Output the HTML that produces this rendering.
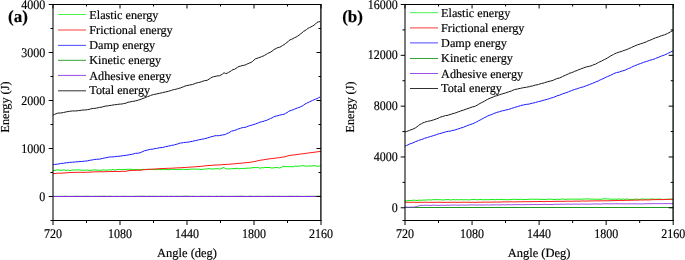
<!DOCTYPE html>
<html><head><meta charset="utf-8"><style>
html,body{margin:0;padding:0;background:#fff;width:685px;height:260px;overflow:hidden;}
svg{display:block;will-change:transform;}
text{font-family:"Liberation Serif", serif;stroke:#000;stroke-width:0.18px;}
</style></head><body>
<svg width="685" height="260" viewBox="0 0 685 260" text-rendering="geometricPrecision" font-family='"Liberation Serif", serif' fill="#000"><defs><clipPath id="ca"><rect x="53" y="4.5" width="268" height="216"/></clipPath><clipPath id="cb"><rect x="405" y="4.5" width="268.2" height="216"/></clipPath></defs><g clip-path="url(#ca)"><polyline points="53.00,196.06 55.00,196.12 57.00,196.15 59.00,196.22 61.00,196.12 63.00,196.21 65.00,195.76 67.00,195.98 69.00,196.22 71.00,196.07 73.00,196.20 75.00,195.81 77.00,195.98 79.00,195.87 81.00,196.02 83.00,196.04 85.00,195.76 87.00,195.86 89.00,195.89 91.00,196.21 93.00,196.13 95.00,195.83 97.00,196.15 99.00,195.82 101.00,196.06 103.00,195.81 105.00,195.75 107.00,196.19 109.00,195.85 111.00,195.86 113.00,196.24 115.00,196.19 117.00,195.89 119.00,196.23 121.00,196.02 123.00,196.09 125.00,195.85 127.00,196.22 129.00,196.10 131.00,196.23 133.00,196.20 135.00,195.90 137.00,195.93 139.00,195.83 141.00,195.82 143.00,195.78 145.00,195.90 147.00,196.05 149.00,195.75 151.00,196.09 153.00,195.92 155.00,195.90 157.00,196.16 159.00,195.99 161.00,195.91 163.00,195.99 165.00,196.10 167.00,195.78 169.00,196.24 171.00,195.76 173.00,196.12 175.00,196.17 177.00,195.76 179.00,196.14 181.00,195.93 183.00,196.04 185.00,195.75 187.00,195.77 189.00,195.84 191.00,196.23 193.00,195.85 195.00,196.13 197.00,196.21 199.00,196.22 201.00,195.92 203.00,195.93 205.00,196.01 207.00,196.14 209.00,195.80 211.00,196.12 213.00,196.15 215.00,196.18 217.00,195.77 219.00,196.22 221.00,195.80 223.00,195.92 225.00,196.06 227.00,196.21 229.00,195.92 231.00,196.21 233.00,196.02 235.00,195.91 237.00,195.91 239.00,195.84 241.00,195.79 243.00,195.82 245.00,196.09 247.00,196.25 249.00,195.83 251.00,195.77 253.00,196.24 255.00,196.02 257.00,195.95 259.00,195.87 261.00,196.05 263.00,196.16 265.00,195.98 267.00,195.96 269.00,195.78 271.00,196.21 273.00,195.77 275.00,196.00 277.00,196.17 279.00,195.82 281.00,196.12 283.00,196.22 285.00,196.07 287.00,196.14 289.00,195.80 291.00,195.97 293.00,195.82 295.00,196.17 297.00,195.90 299.00,195.98 301.00,196.25 303.00,196.18 305.00,196.24 307.00,195.98 309.00,195.99 311.00,196.11 313.00,195.99 315.00,195.90 317.00,195.95 319.00,195.82 321.00,195.94" fill="none" stroke="#1f9a1f" stroke-width="1" stroke-opacity="0.4" stroke-linejoin="round"/><polyline points="53.00,196.50 321.00,196.50" fill="none" stroke="#8a2be2" stroke-width="1.2" stroke-opacity="1.0" stroke-linejoin="round"/><polyline points="53.00,170.47 54.00,170.44 55.00,170.60 56.00,170.03 57.00,169.81 58.00,170.06 59.00,169.98 60.00,170.21 61.00,170.29 62.00,170.40 63.00,169.91 64.00,170.05 65.00,169.90 66.00,170.40 67.00,170.32 68.00,169.86 69.00,170.51 70.00,170.50 71.00,170.28 72.00,170.25 73.00,169.93 74.00,169.82 75.00,170.18 76.00,169.85 77.00,169.94 78.00,169.97 79.00,169.82 80.00,170.12 81.00,170.10 82.00,170.38 83.00,170.15 84.00,170.24 85.00,170.14 86.00,170.25 87.00,170.10 88.00,169.97 89.00,170.48 90.00,170.47 91.00,170.36 92.00,170.26 93.00,169.99 94.00,169.93 95.00,169.96 96.00,169.81 97.00,170.29 98.00,170.04 99.00,170.35 100.00,170.02 101.00,170.40 102.00,170.30 103.00,169.69 104.00,169.82 105.00,170.29 106.00,169.96 107.00,170.30 108.00,169.87 109.00,169.62 110.00,169.99 111.00,170.07 112.00,169.70 113.00,169.55 114.00,169.70 115.00,170.12 116.00,169.95 117.00,169.47 118.00,169.53 119.00,169.40 120.00,169.34 121.00,169.82 122.00,169.36 123.00,169.60 124.00,169.49 125.00,169.28 126.00,169.62 127.00,169.17 128.00,169.50 129.00,169.15 130.00,169.37 131.00,169.24 132.00,169.30 133.00,169.80 134.00,169.70 135.00,169.36 136.00,169.77 137.00,169.30 138.00,169.43 139.00,169.75 140.00,169.60 141.00,169.22 142.00,169.84 143.00,169.30 144.00,169.33 145.00,169.69 146.00,169.38 147.00,169.36 148.00,169.20 149.00,169.21 150.00,169.56 151.00,169.32 152.00,169.57 153.00,169.40 154.00,169.46 155.00,169.81 156.00,169.47 157.00,169.53 158.00,169.73 159.00,169.25 160.00,169.23 161.00,169.75 162.00,169.69 163.00,169.29 164.00,169.24 165.00,169.62 166.00,169.76 167.00,169.24 168.00,169.76 169.00,169.71 170.00,169.52 171.00,169.39 172.00,169.16 173.00,169.11 174.00,169.76 175.00,169.25 176.00,169.57 177.00,169.25 178.00,169.65 179.00,169.48 180.00,169.27 181.00,169.18 182.00,169.56 183.00,169.10 184.00,169.21 185.00,169.44 186.00,169.63 187.00,169.45 188.00,169.21 189.00,169.64 190.00,169.13 191.00,168.98 192.00,169.15 193.00,169.26 194.00,168.97 195.00,169.04 196.00,169.16 197.00,169.29 198.00,168.97 199.00,169.12 200.00,169.47 201.00,169.54 202.00,169.31 203.00,169.33 204.00,169.26 205.00,168.95 206.00,168.87 207.00,168.86 208.00,168.99 209.00,168.34 210.00,169.02 211.00,168.86 212.00,169.17 213.00,168.94 214.00,168.99 215.00,168.57 216.00,169.07 217.00,168.44 218.00,168.79 219.00,168.95 220.00,169.08 221.00,168.67 222.00,168.34 223.00,167.54 224.00,167.66 225.00,168.20 226.00,168.68 227.00,169.08 228.00,169.02 229.00,168.67 230.00,168.89 231.00,168.90 232.00,168.66 233.00,168.66 234.00,168.46 235.00,168.56 236.00,168.56 237.00,168.17 238.00,168.54 239.00,168.77 240.00,168.67 241.00,168.54 242.00,168.28 243.00,168.50 244.00,168.38 245.00,168.26 246.00,168.52 247.00,167.97 248.00,168.42 249.00,167.89 250.00,168.27 251.00,168.01 252.00,167.65 253.00,167.80 254.00,167.48 255.00,167.38 256.00,167.77 257.00,167.49 258.00,167.50 259.00,167.88 260.00,168.32 261.00,167.81 262.00,167.61 263.00,167.94 264.00,167.59 265.00,167.26 266.00,167.65 267.00,167.34 268.00,167.66 269.00,167.41 270.00,167.65 271.00,167.91 272.00,167.99 273.00,167.97 274.00,167.62 275.00,167.76 276.00,167.57 277.00,167.45 278.00,167.70 279.00,167.94 280.00,167.94 281.00,167.41 282.00,167.15 283.00,166.24 284.00,166.30 285.00,166.63 286.00,166.64 287.00,166.57 288.00,166.69 289.00,166.81 290.00,166.70 291.00,166.51 292.00,166.82 293.00,166.86 294.00,166.43 295.00,166.10 296.00,166.01 297.00,166.54 298.00,165.90 299.00,166.31 300.00,166.15 301.00,165.77 302.00,165.90 303.00,165.53 304.00,165.78 305.00,166.17 306.00,165.87 307.00,166.43 308.00,166.02 309.00,165.95 310.00,165.88 311.00,166.13 312.00,165.84 313.00,165.81 314.00,165.67 315.00,165.62 316.00,166.12 317.00,166.33 318.00,165.99 319.00,166.18 320.00,165.98 321.00,165.86" fill="none" stroke="#11ee11" stroke-width="1" stroke-opacity="1.0" stroke-linejoin="round"/><polyline points="53.00,173.59 55.00,173.50 57.00,173.24 59.00,173.16 61.00,173.21 63.00,173.07 65.00,172.93 67.00,172.70 69.00,172.60 71.00,172.50 73.00,172.46 75.00,172.33 77.00,172.35 79.00,172.30 81.00,172.33 83.00,172.37 85.00,172.34 87.00,172.24 89.00,172.20 91.00,172.09 93.00,171.93 95.00,171.81 97.00,171.85 99.00,171.78 101.00,171.76 103.00,171.82 105.00,171.71 107.00,171.67 109.00,171.57 111.00,171.48 113.00,171.51 115.00,171.43 117.00,171.46 119.00,171.52 121.00,171.41 123.00,171.28 125.00,171.38 127.00,171.00 129.00,170.63 131.00,170.46 133.00,170.39 135.00,170.36 137.00,170.23 139.00,170.32 141.00,170.17 143.00,169.77 145.00,169.65 147.00,169.52 149.00,169.35 151.00,169.24 153.00,169.09 155.00,169.03 157.00,168.81 159.00,168.74 161.00,168.53 163.00,168.56 165.00,168.48 167.00,168.31 169.00,168.25 171.00,168.24 173.00,168.12 175.00,168.00 177.00,167.86 179.00,167.80 181.00,167.77 183.00,167.52 185.00,167.53 187.00,167.26 189.00,167.25 191.00,166.99 193.00,166.98 195.00,166.79 197.00,166.61 199.00,166.47 201.00,166.33 203.00,166.12 205.00,165.86 207.00,165.64 209.00,165.50 211.00,165.43 213.00,165.24 215.00,165.02 217.00,165.04 219.00,164.91 221.00,164.82 223.00,164.56 225.00,164.55 227.00,164.29 229.00,164.29 231.00,164.06 233.00,163.88 235.00,163.83 237.00,163.49 239.00,163.39 241.00,163.27 243.00,162.95 245.00,162.74 247.00,162.68 249.00,162.38 251.00,162.18 253.00,161.73 255.00,161.47 257.00,160.95 259.00,160.57 261.00,160.07 263.00,159.94 265.00,159.46 267.00,159.30 269.00,158.85 271.00,158.63 273.00,158.50 275.00,158.13 277.00,157.90 279.00,157.76 281.00,157.40 283.00,156.97 285.00,156.80 287.00,156.11 289.00,155.57 291.00,155.25 293.00,155.06 295.00,154.85 297.00,154.48 299.00,154.29 301.00,153.96 303.00,153.74 305.00,153.50 307.00,153.20 309.00,152.93 311.00,152.63 313.00,152.42 315.00,152.15 317.00,151.87 319.00,151.58 321.00,151.43" fill="none" stroke="#ff1a1a" stroke-width="1" stroke-opacity="1.0" stroke-linejoin="round"/><polyline points="53.00,164.62 54.50,164.51 56.00,164.25 57.50,164.12 59.00,163.92 60.50,163.54 62.00,163.30 63.50,163.33 65.00,162.93 66.50,162.71 68.00,162.73 69.50,162.36 71.00,162.34 72.50,162.14 74.00,162.10 75.50,161.85 77.00,161.84 78.50,161.76 80.00,161.51 81.50,161.48 83.00,161.37 84.50,161.10 86.00,161.12 87.50,160.83 89.00,160.50 90.50,160.15 92.00,160.07 93.50,159.62 95.00,159.37 96.50,159.32 98.00,159.18 99.50,159.16 101.00,158.73 102.50,158.49 104.00,158.02 105.50,157.86 107.00,157.63 108.50,157.19 110.00,156.99 111.50,156.87 113.00,156.94 114.50,156.63 116.00,156.56 117.50,156.34 119.00,156.28 120.50,156.09 122.00,155.84 123.50,155.67 125.00,155.43 126.50,155.25 128.00,154.91 129.50,154.72 131.00,154.41 132.50,154.15 134.00,153.75 135.50,153.32 137.00,153.29 138.50,153.08 140.00,152.82 141.50,152.09 143.00,151.50 144.50,150.72 146.00,150.48 147.50,150.07 149.00,149.66 150.50,149.28 152.00,149.25 153.50,149.02 155.00,148.48 156.50,148.45 158.00,148.09 159.50,147.78 161.00,147.56 162.50,147.43 164.00,147.19 165.50,146.65 167.00,146.49 168.50,145.99 170.00,145.87 171.50,145.39 173.00,145.19 174.50,144.86 176.00,144.32 177.50,144.05 179.00,143.42 180.50,143.00 182.00,142.95 183.50,142.57 185.00,142.41 186.50,142.29 188.00,142.17 189.50,141.86 191.00,141.50 192.50,141.36 194.00,140.80 195.50,140.64 197.00,140.32 198.50,139.86 200.00,139.59 201.50,139.31 203.00,139.04 204.50,138.73 206.00,138.32 207.50,137.89 209.00,137.53 210.50,136.97 212.00,136.56 213.50,136.26 215.00,135.72 216.50,135.65 218.00,135.76 219.50,135.54 221.00,135.33 222.50,134.90 224.00,134.75 225.50,134.39 227.00,133.52 228.50,132.96 230.00,132.14 231.50,131.14 233.00,130.80 234.50,130.41 236.00,129.95 237.50,129.26 239.00,128.76 240.50,128.27 242.00,127.76 243.50,127.47 245.00,127.35 246.50,126.93 248.00,126.21 249.50,125.76 251.00,125.35 252.50,124.85 254.00,124.44 255.50,123.94 257.00,123.36 258.50,122.83 260.00,122.14 261.50,121.77 263.00,121.50 264.50,120.89 266.00,120.50 267.50,119.92 269.00,119.16 270.50,118.48 272.00,117.93 273.50,117.04 275.00,116.31 276.50,115.99 278.00,115.68 279.50,115.11 281.00,114.82 282.50,114.49 284.00,114.30 285.50,113.33 287.00,112.61 288.50,111.55 290.00,110.75 291.50,110.31 293.00,109.84 294.50,109.17 296.00,108.54 297.50,107.94 299.00,107.49 300.50,106.76 302.00,106.19 303.50,105.20 305.00,104.01 306.50,103.25 308.00,102.63 309.50,101.80 311.00,101.19 312.50,100.45 314.00,99.79 315.50,99.20 317.00,98.62 318.50,97.74 320.00,97.04" fill="none" stroke="#1a1aff" stroke-width="1" stroke-opacity="1.0" stroke-linejoin="round"/><polyline points="53.00,115.22 54.50,114.43 56.00,113.77 57.50,113.16 59.00,113.04 60.50,112.97 62.00,112.83 63.50,112.49 65.00,112.18 66.50,111.78 68.00,111.63 69.50,111.31 71.00,111.12 72.50,110.98 74.00,110.89 75.50,110.98 77.00,110.80 78.50,110.64 80.00,110.49 81.50,110.16 83.00,110.04 84.50,109.99 86.00,109.83 87.50,109.66 89.00,109.45 90.50,108.93 92.00,108.63 93.50,108.38 95.00,108.40 96.50,108.00 98.00,107.79 99.50,107.38 101.00,107.29 102.50,106.91 104.00,106.45 105.50,106.06 107.00,106.00 108.50,105.66 110.00,105.51 111.50,105.29 113.00,104.98 114.50,104.74 116.00,104.63 117.50,104.43 119.00,104.20 120.50,104.07 122.00,104.01 123.50,103.57 125.00,103.36 126.50,102.94 128.00,102.23 129.50,102.01 131.00,101.69 132.50,101.36 134.00,101.29 135.50,100.78 137.00,100.57 138.50,100.00 140.00,99.62 141.50,99.00 143.00,98.42 144.50,97.89 146.00,97.17 147.50,96.67 149.00,96.20 150.50,95.43 152.00,94.97 153.50,94.57 155.00,94.28 156.50,93.96 158.00,93.58 159.50,93.34 161.00,92.96 162.50,92.69 164.00,92.20 165.50,92.02 167.00,91.66 168.50,91.26 170.00,90.77 171.50,90.45 173.00,89.78 174.50,89.47 176.00,89.26 177.50,88.78 179.00,88.25 180.50,87.94 182.00,87.28 183.50,86.77 185.00,86.04 186.50,85.68 188.00,85.42 189.50,85.00 191.00,84.76 192.50,84.57 194.00,83.88 195.50,83.31 197.00,82.90 198.50,82.52 200.00,82.29 201.50,81.68 203.00,81.18 204.50,80.64 206.00,80.54 207.50,80.08 209.00,79.16 210.50,78.10 212.00,77.30 213.50,76.68 215.00,76.45 216.50,76.08 218.00,75.84 219.50,75.77 221.00,74.92 222.50,74.07 224.00,72.69 225.50,73.56 227.00,73.31 228.50,72.34 230.00,71.65 231.50,70.59 233.00,69.62 234.50,69.30 236.00,68.29 237.50,67.26 239.00,66.47 240.50,66.14 242.00,65.60 243.50,65.35 245.00,65.06 246.50,64.38 248.00,63.62 249.50,63.01 251.00,62.42 252.50,61.56 254.00,59.99 255.50,58.77 257.00,58.43 258.50,57.74 260.00,57.35 261.50,56.65 263.00,56.15 264.50,55.38 266.00,54.52 267.50,53.51 269.00,52.80 270.50,52.23 272.00,51.18 273.50,49.98 275.00,49.02 276.50,48.28 278.00,47.58 279.50,47.28 281.00,46.55 282.50,45.54 284.00,44.63 285.50,43.51 287.00,42.35 288.50,41.16 290.00,39.83 291.50,39.34 293.00,38.66 294.50,37.70 296.00,37.12 297.50,36.19 299.00,35.17 300.50,33.91 302.00,32.82 303.50,31.36 305.00,30.62 306.50,29.54 308.00,28.37 309.50,27.59 311.00,26.92 312.50,26.09 314.00,25.17 315.50,24.03 317.00,22.32 318.50,21.84 320.00,21.70" fill="none" stroke="#1a1a1a" stroke-width="1" stroke-opacity="1.0" stroke-linejoin="round"/></g><g clip-path="url(#cb)"><polyline points="405.00,207.50 673.00,207.50" fill="none" stroke="#1f9a1f" stroke-width="1" stroke-opacity="1.0" stroke-linejoin="round"/><polyline points="405.00,207.15 407.00,207.10 409.00,207.25 411.00,207.07 413.00,207.21 415.00,206.90 417.00,206.30 419.00,205.92 421.00,205.26 423.00,205.37 425.00,205.24 427.00,205.24 429.00,205.32 431.00,205.43 433.00,205.21 435.00,205.22 437.00,205.33 439.00,205.41 441.00,205.29 443.00,205.22 445.00,205.38 447.00,205.09 449.00,205.32 451.00,205.13 453.00,205.08 455.00,205.05 457.00,205.10 459.00,205.24 461.00,205.03 463.00,205.14 465.00,205.14 467.00,205.05 469.00,205.09 471.00,204.93 473.00,204.92 475.00,204.95 477.00,205.07 479.00,204.99 481.00,204.94 483.00,205.00 485.00,204.94 487.00,204.88 489.00,205.01 491.00,204.96 493.00,204.81 495.00,204.89 497.00,204.86 499.00,204.95 501.00,204.88 503.00,204.73 505.00,204.92 507.00,204.65 509.00,204.72 511.00,204.80 513.00,204.61 515.00,204.69 517.00,204.54 519.00,204.71 521.00,204.72 523.00,204.64 525.00,204.72 527.00,204.53 529.00,204.63 531.00,204.58 533.00,204.56 535.00,204.50 537.00,204.60 539.00,204.61 541.00,204.46 543.00,204.49 545.00,204.30 547.00,204.47 549.00,204.44 551.00,204.52 553.00,204.45 555.00,204.28 557.00,204.29 559.00,204.36 561.00,204.14 563.00,204.26 565.00,204.15 567.00,204.12 569.00,204.08 571.00,204.28 573.00,204.07 575.00,204.09 577.00,204.11 579.00,204.24 581.00,203.99 583.00,204.08 585.00,204.09 587.00,204.17 589.00,204.14 591.00,204.13 593.00,203.94 595.00,203.96 597.00,203.93 599.00,204.07 601.00,204.07 603.00,203.81 605.00,203.80 607.00,203.81 609.00,203.81 611.00,203.88 613.00,203.90 615.00,203.80 617.00,203.72 619.00,203.83 621.00,203.81 623.00,203.87 625.00,203.98 627.00,203.89 629.00,203.83 631.00,203.86 633.00,203.87 635.00,203.68 637.00,203.93 639.00,203.88 641.00,203.91 643.00,203.88 645.00,203.75 647.00,203.75 649.00,203.65 651.00,203.80 653.00,203.63 655.00,203.62 657.00,203.66 659.00,203.64 661.00,203.69 663.00,203.60 665.00,203.57 667.00,203.61 669.00,203.59 671.00,203.66 673.00,203.56" fill="none" stroke="#8a2be2" stroke-width="1.0" stroke-opacity="0.8" stroke-linejoin="round"/><polyline points="405.00,200.54 407.00,200.91 409.00,200.35 411.00,200.63 413.00,200.20 415.00,200.23 417.00,200.62 419.00,200.08 421.00,200.27 423.00,200.10 425.00,200.03 427.00,199.99 429.00,199.75 431.00,200.09 433.00,199.64 435.00,199.71 437.00,199.57 439.00,199.71 441.00,199.78 443.00,200.06 445.00,199.74 447.00,199.57 449.00,199.64 451.00,200.07 453.00,199.50 455.00,199.82 457.00,199.66 459.00,199.82 461.00,199.62 463.00,199.82 465.00,199.69 467.00,199.77 469.00,199.91 471.00,199.70 473.00,199.43 475.00,199.37 477.00,199.89 479.00,199.60 481.00,199.41 483.00,199.86 485.00,199.63 487.00,199.71 489.00,199.79 491.00,199.43 493.00,199.46 495.00,199.77 497.00,199.31 499.00,199.68 501.00,199.27 503.00,199.62 505.00,199.62 507.00,199.76 509.00,199.69 511.00,199.48 513.00,199.29 515.00,199.25 517.00,199.47 519.00,199.45 521.00,199.18 523.00,199.67 525.00,199.42 527.00,199.53 529.00,199.24 531.00,199.24 533.00,199.10 535.00,199.29 537.00,199.23 539.00,199.32 541.00,199.28 543.00,199.55 545.00,199.57 547.00,199.14 549.00,199.26 551.00,199.12 553.00,199.41 555.00,199.58 557.00,199.11 559.00,199.44 561.00,199.16 563.00,198.98 565.00,199.42 567.00,199.16 569.00,199.05 571.00,199.20 573.00,199.07 575.00,199.17 577.00,199.18 579.00,199.15 581.00,199.25 583.00,199.06 585.00,198.94 587.00,198.92 589.00,198.93 591.00,199.17 593.00,199.06 595.00,199.32 597.00,199.13 599.00,199.25 601.00,199.40 603.00,198.85 605.00,198.81 607.00,198.89 609.00,199.04 611.00,199.16 613.00,199.27 615.00,199.04 617.00,199.41 619.00,198.84 621.00,199.35 623.00,198.98 625.00,199.38 627.00,198.88 629.00,199.45 631.00,199.33 633.00,199.48 635.00,199.24 637.00,199.00 639.00,199.48 641.00,199.17 643.00,198.96 645.00,199.28 647.00,199.22 649.00,199.21 651.00,199.03 653.00,199.01 655.00,199.30 657.00,199.22 659.00,199.03 661.00,199.23 663.00,199.41 665.00,199.41 667.00,199.27 669.00,199.22 671.00,199.21 673.00,199.14" fill="none" stroke="#11ee11" stroke-width="1" stroke-opacity="1.0" stroke-linejoin="round"/><polyline points="405.00,202.29 407.00,202.27 409.00,202.23 411.00,202.37 413.00,202.20 415.00,202.30 417.00,202.38 419.00,202.22 421.00,202.31 423.00,202.32 425.00,202.21 427.00,202.28 429.00,202.34 431.00,202.29 433.00,202.35 435.00,202.23 437.00,202.25 439.00,202.22 441.00,202.30 443.00,202.38 445.00,202.32 447.00,202.35 449.00,202.28 451.00,202.35 453.00,202.22 455.00,202.26 457.00,202.33 459.00,202.35 461.00,202.28 463.00,202.22 465.00,202.25 467.00,202.24 469.00,202.26 471.00,202.36 473.00,202.24 475.00,202.38 477.00,202.35 479.00,202.16 481.00,202.21 483.00,202.21 485.00,202.09 487.00,202.15 489.00,202.22 491.00,202.04 493.00,202.11 495.00,201.99 497.00,202.06 499.00,202.10 501.00,201.94 503.00,201.88 505.00,201.87 507.00,201.94 509.00,201.81 511.00,201.80 513.00,201.86 515.00,201.92 517.00,201.80 519.00,201.77 521.00,201.80 523.00,201.66 525.00,201.74 527.00,201.63 529.00,201.70 531.00,201.75 533.00,201.54 535.00,201.62 537.00,201.61 539.00,201.49 541.00,201.49 543.00,201.61 545.00,201.59 547.00,201.39 549.00,201.49 551.00,201.51 553.00,201.35 555.00,201.40 557.00,201.26 559.00,201.30 561.00,201.34 563.00,201.30 565.00,201.32 567.00,201.16 569.00,201.18 571.00,201.27 573.00,201.19 575.00,201.14 577.00,201.10 579.00,201.20 581.00,201.09 583.00,200.96 585.00,201.09 587.00,200.97 589.00,200.97 591.00,200.90 593.00,200.93 595.00,200.88 597.00,200.81 599.00,200.90 601.00,200.77 603.00,200.88 605.00,200.71 607.00,200.81 609.00,200.77 611.00,200.67 613.00,200.67 615.00,200.53 617.00,200.58 619.00,200.48 621.00,200.39 623.00,200.50 625.00,200.34 627.00,200.29 629.00,200.34 631.00,200.20 633.00,200.22 635.00,200.07 637.00,200.16 639.00,200.00 641.00,199.92 643.00,200.06 645.00,199.85 647.00,199.96 649.00,199.93 651.00,199.81 653.00,199.64 655.00,199.61 657.00,199.59 659.00,199.59 661.00,199.59 663.00,199.61 665.00,199.45 667.00,199.36 669.00,199.40 671.00,199.27 673.00,199.22" fill="none" stroke="#ff1a1a" stroke-width="1" stroke-opacity="1.0" stroke-linejoin="round"/><polyline points="405.00,146.22 406.50,145.49 408.00,144.84 409.50,144.04 411.00,143.59 412.50,143.00 414.00,142.35 415.50,141.61 417.00,141.15 418.50,140.52 420.00,139.92 421.50,139.60 423.00,139.07 424.50,138.24 426.00,138.01 427.50,137.48 429.00,136.96 430.50,136.48 432.00,136.11 433.50,135.57 435.00,135.16 436.50,134.64 438.00,133.97 439.50,133.65 441.00,133.28 442.50,132.89 444.00,132.39 445.50,131.86 447.00,131.55 448.50,131.29 450.00,131.23 451.50,130.68 453.00,130.34 454.50,130.14 456.00,129.54 457.50,129.16 459.00,128.68 460.50,128.09 462.00,127.71 463.50,127.24 465.00,126.50 466.50,125.95 468.00,125.43 469.50,124.75 471.00,124.30 472.50,123.80 474.00,123.15 475.50,122.45 477.00,121.77 478.50,120.77 480.00,120.12 481.50,119.25 483.00,118.51 484.50,117.55 486.00,117.00 487.50,116.08 489.00,115.38 490.50,114.90 492.00,114.37 493.50,113.65 495.00,113.07 496.50,112.54 498.00,112.07 499.50,111.70 501.00,111.16 502.50,110.79 504.00,110.53 505.50,110.06 507.00,109.78 508.50,109.42 510.00,108.98 511.50,108.44 513.00,107.95 514.50,107.53 516.00,106.93 517.50,106.66 519.00,106.07 520.50,105.63 522.00,105.19 523.50,104.94 525.00,104.62 526.50,104.33 528.00,104.23 529.50,103.93 531.00,103.47 532.50,103.18 534.00,102.92 535.50,102.43 537.00,102.08 538.50,101.54 540.00,101.30 541.50,100.87 543.00,100.43 544.50,100.02 546.00,99.65 547.50,99.21 549.00,98.78 550.50,98.22 552.00,97.78 553.50,97.42 555.00,96.72 556.50,96.09 558.00,95.55 559.50,95.19 561.00,94.49 562.50,93.93 564.00,93.36 565.50,92.90 567.00,92.49 568.50,91.77 570.00,91.19 571.50,90.61 573.00,90.06 574.50,89.47 576.00,89.05 577.50,88.62 579.00,88.08 580.50,87.54 582.00,87.18 583.50,86.84 585.00,86.20 586.50,85.62 588.00,85.14 589.50,84.56 591.00,83.94 592.50,83.33 594.00,82.80 595.50,82.06 597.00,81.47 598.50,80.83 600.00,79.98 601.50,79.42 603.00,78.69 604.50,78.05 606.00,77.10 607.50,76.67 609.00,75.94 610.50,75.31 612.00,74.62 613.50,73.73 615.00,73.15 616.50,72.57 618.00,72.29 619.50,71.97 621.00,71.33 622.50,70.95 624.00,70.45 625.50,69.97 627.00,69.25 628.50,68.50 630.00,68.05 631.50,67.30 633.00,66.45 634.50,65.81 636.00,65.20 637.50,64.61 639.00,64.04 640.50,63.57 642.00,63.00 643.50,62.37 645.00,61.86 646.50,61.46 648.00,60.98 649.50,60.37 651.00,60.01 652.50,59.61 654.00,59.13 655.50,58.55 657.00,57.79 658.50,57.31 660.00,56.63 661.50,56.03 663.00,55.51 664.50,54.98 666.00,54.38 667.50,53.60 669.00,52.76 670.50,52.14 672.00,51.34 673.50,50.60" fill="none" stroke="#1a1aff" stroke-width="1" stroke-opacity="1.0" stroke-linejoin="round"/><polyline points="405.00,131.99 406.50,131.54 408.00,131.03 409.50,130.36 411.00,129.75 412.50,129.26 414.00,128.63 415.50,127.79 417.00,126.76 418.50,125.58 420.00,124.42 421.50,123.70 423.00,122.79 424.50,122.36 426.00,121.75 427.50,121.51 429.00,120.93 430.50,120.83 432.00,120.27 433.50,119.95 435.00,119.33 436.50,118.84 438.00,118.38 439.50,117.51 441.00,116.89 442.50,116.59 444.00,116.07 445.50,115.56 447.00,115.47 448.50,115.09 450.00,114.48 451.50,114.13 453.00,113.59 454.50,113.19 456.00,112.78 457.50,112.10 459.00,111.72 460.50,110.99 462.00,110.48 463.50,110.13 465.00,109.47 466.50,108.97 468.00,108.51 469.50,107.96 471.00,107.45 472.50,106.86 474.00,106.59 475.50,106.07 477.00,105.26 478.50,104.36 480.00,103.46 481.50,102.65 483.00,101.94 484.50,101.12 486.00,100.16 487.50,99.42 489.00,98.68 490.50,98.00 492.00,97.49 493.50,96.80 495.00,96.06 496.50,95.82 498.00,95.22 499.50,94.77 501.00,94.22 502.50,93.83 504.00,93.37 505.50,93.02 507.00,92.34 508.50,91.99 510.00,91.40 511.50,90.96 513.00,90.16 514.50,89.63 516.00,89.25 517.50,89.04 519.00,88.57 520.50,88.38 522.00,87.97 523.50,87.66 525.00,87.39 526.50,87.27 528.00,86.85 529.50,86.73 531.00,86.15 532.50,86.00 534.00,85.46 535.50,85.03 537.00,84.82 538.50,84.50 540.00,83.85 541.50,83.51 543.00,83.24 544.50,82.69 546.00,82.24 547.50,81.75 549.00,81.34 550.50,81.06 552.00,80.65 553.50,80.12 555.00,79.45 556.50,78.78 558.00,78.35 559.50,77.96 561.00,77.34 562.50,76.59 564.00,75.78 565.50,75.18 567.00,74.47 568.50,73.83 570.00,73.03 571.50,72.69 573.00,72.14 574.50,71.38 576.00,70.82 577.50,70.36 579.00,69.55 580.50,69.14 582.00,68.44 583.50,67.93 585.00,67.36 586.50,66.88 588.00,66.58 589.50,66.24 591.00,65.87 592.50,65.31 594.00,64.57 595.50,64.16 597.00,63.26 598.50,62.44 600.00,61.73 601.50,61.13 603.00,60.24 604.50,59.49 606.00,58.76 607.50,57.91 609.00,57.00 610.50,56.04 612.00,55.24 613.50,54.48 615.00,53.59 616.50,53.03 618.00,52.46 619.50,51.98 621.00,51.59 622.50,51.04 624.00,50.39 625.50,50.04 627.00,49.44 628.50,48.75 630.00,48.12 631.50,47.46 633.00,46.69 634.50,46.11 636.00,45.41 637.50,44.80 639.00,44.36 640.50,43.82 642.00,43.48 643.50,42.88 645.00,42.31 646.50,41.71 648.00,40.93 649.50,40.42 651.00,39.84 652.50,39.12 654.00,38.44 655.50,37.90 657.00,37.35 658.50,36.93 660.00,36.24 661.50,35.70 663.00,35.24 664.50,34.83 666.00,34.18 667.50,33.41 669.00,32.75 670.50,31.84 672.00,31.00 673.50,30.40" fill="none" stroke="#1a1a1a" stroke-width="1" stroke-opacity="1.0" stroke-linejoin="round"/></g><line x1="52.5" y1="4.5" x2="321.5" y2="4.5" stroke="#000" stroke-width="1"/><line x1="52.5" y1="220.5" x2="321.5" y2="220.5" stroke="#000" stroke-width="1"/><line x1="53" y1="4.0" x2="53" y2="221.0" stroke="#000" stroke-width="1.05"/><line x1="320.9" y1="4.0" x2="320.9" y2="221.0" stroke="#000" stroke-width="1.3"/><line x1="48.7" y1="196.5" x2="53" y2="196.5" stroke="#000" stroke-width="1"/><line x1="321" y1="196.5" x2="316.5" y2="196.5" stroke="#000" stroke-width="1"/><text transform="translate(45.30,200.50) scale(0.91,1.0)" font-size="13.2" text-anchor="end" font-weight="normal" >0</text><line x1="48.7" y1="148.5" x2="53" y2="148.5" stroke="#000" stroke-width="1"/><line x1="321" y1="148.5" x2="316.5" y2="148.5" stroke="#000" stroke-width="1"/><text transform="translate(45.30,152.50) scale(0.91,1.0)" font-size="13.2" text-anchor="end" font-weight="normal" >1000</text><line x1="48.7" y1="100.5" x2="53" y2="100.5" stroke="#000" stroke-width="1"/><line x1="321" y1="100.5" x2="316.5" y2="100.5" stroke="#000" stroke-width="1"/><text transform="translate(45.30,104.50) scale(0.91,1.0)" font-size="13.2" text-anchor="end" font-weight="normal" >2000</text><line x1="48.7" y1="52.5" x2="53" y2="52.5" stroke="#000" stroke-width="1"/><line x1="321" y1="52.5" x2="316.5" y2="52.5" stroke="#000" stroke-width="1"/><text transform="translate(45.30,56.50) scale(0.91,1.0)" font-size="13.2" text-anchor="end" font-weight="normal" >3000</text><line x1="48.7" y1="4.5" x2="53" y2="4.5" stroke="#000" stroke-width="1"/><line x1="321" y1="4.5" x2="316.5" y2="4.5" stroke="#000" stroke-width="1"/><text transform="translate(45.30,8.50) scale(0.91,1.0)" font-size="13.2" text-anchor="end" font-weight="normal" >4000</text><line x1="50.5" y1="220.5" x2="53" y2="220.5" stroke="#000" stroke-width="1"/><line x1="321" y1="220.5" x2="318.5" y2="220.5" stroke="#000" stroke-width="1"/><line x1="50.5" y1="172.5" x2="53" y2="172.5" stroke="#000" stroke-width="1"/><line x1="321" y1="172.5" x2="318.5" y2="172.5" stroke="#000" stroke-width="1"/><line x1="50.5" y1="124.5" x2="53" y2="124.5" stroke="#000" stroke-width="1"/><line x1="321" y1="124.5" x2="318.5" y2="124.5" stroke="#000" stroke-width="1"/><line x1="50.5" y1="76.5" x2="53" y2="76.5" stroke="#000" stroke-width="1"/><line x1="321" y1="76.5" x2="318.5" y2="76.5" stroke="#000" stroke-width="1"/><line x1="50.5" y1="28.5" x2="53" y2="28.5" stroke="#000" stroke-width="1"/><line x1="321" y1="28.5" x2="318.5" y2="28.5" stroke="#000" stroke-width="1"/><line x1="53.0" y1="220.5" x2="53.0" y2="225.0" stroke="#000" stroke-width="1"/><line x1="53.0" y1="4.5" x2="53.0" y2="8.5" stroke="#000" stroke-width="1"/><text transform="translate(53.00,237.80) scale(0.91,1.0)" font-size="13.2" text-anchor="middle" font-weight="normal" >720</text><line x1="120.0" y1="220.5" x2="120.0" y2="225.0" stroke="#000" stroke-width="1"/><line x1="120.0" y1="4.5" x2="120.0" y2="8.5" stroke="#000" stroke-width="1"/><text transform="translate(120.00,237.80) scale(0.91,1.0)" font-size="13.2" text-anchor="middle" font-weight="normal" >1080</text><line x1="187.0" y1="220.5" x2="187.0" y2="225.0" stroke="#000" stroke-width="1"/><line x1="187.0" y1="4.5" x2="187.0" y2="8.5" stroke="#000" stroke-width="1"/><text transform="translate(187.00,237.80) scale(0.91,1.0)" font-size="13.2" text-anchor="middle" font-weight="normal" >1440</text><line x1="254.0" y1="220.5" x2="254.0" y2="225.0" stroke="#000" stroke-width="1"/><line x1="254.0" y1="4.5" x2="254.0" y2="8.5" stroke="#000" stroke-width="1"/><text transform="translate(254.00,237.80) scale(0.91,1.0)" font-size="13.2" text-anchor="middle" font-weight="normal" >1800</text><line x1="321.0" y1="220.5" x2="321.0" y2="225.0" stroke="#000" stroke-width="1"/><line x1="321.0" y1="4.5" x2="321.0" y2="8.5" stroke="#000" stroke-width="1"/><text transform="translate(321.00,237.80) scale(0.91,1.0)" font-size="13.2" text-anchor="middle" font-weight="normal" >2160</text><line x1="86.5" y1="220.5" x2="86.5" y2="223.0" stroke="#000" stroke-width="1"/><line x1="86.5" y1="4.5" x2="86.5" y2="6.5" stroke="#000" stroke-width="1"/><line x1="153.5" y1="220.5" x2="153.5" y2="223.0" stroke="#000" stroke-width="1"/><line x1="153.5" y1="4.5" x2="153.5" y2="6.5" stroke="#000" stroke-width="1"/><line x1="220.5" y1="220.5" x2="220.5" y2="223.0" stroke="#000" stroke-width="1"/><line x1="220.5" y1="4.5" x2="220.5" y2="6.5" stroke="#000" stroke-width="1"/><line x1="287.5" y1="220.5" x2="287.5" y2="223.0" stroke="#000" stroke-width="1"/><line x1="287.5" y1="4.5" x2="287.5" y2="6.5" stroke="#000" stroke-width="1"/><text x="187.0" y="256.9" font-size="12.5" text-anchor="middle" font-weight="normal" >Angle (deg)</text><text x="0" y="0" font-size="12.2" text-anchor="middle" transform="translate(8.5,107) rotate(-90)">Energy (J)</text><text x="8.0" y="21.7" font-size="17" text-anchor="start" font-weight="bold" >(a)</text><line x1="404.5" y1="4.5" x2="673.7" y2="4.5" stroke="#000" stroke-width="1"/><line x1="404.5" y1="220.5" x2="673.7" y2="220.5" stroke="#000" stroke-width="1"/><line x1="405" y1="4.0" x2="405" y2="221.0" stroke="#000" stroke-width="1.05"/><line x1="673.1" y1="4.0" x2="673.1" y2="221.0" stroke="#000" stroke-width="1.3"/><line x1="400.7" y1="207.7941176470588" x2="405" y2="207.7941176470588" stroke="#000" stroke-width="1"/><line x1="673.2" y1="207.7941176470588" x2="668.7" y2="207.7941176470588" stroke="#000" stroke-width="1"/><text transform="translate(397.80,211.79) scale(0.91,1.0)" font-size="13.2" text-anchor="end" font-weight="normal" >0</text><line x1="400.7" y1="156.97058823529412" x2="405" y2="156.97058823529412" stroke="#000" stroke-width="1"/><line x1="673.2" y1="156.97058823529412" x2="668.7" y2="156.97058823529412" stroke="#000" stroke-width="1"/><text transform="translate(397.80,160.97) scale(0.91,1.0)" font-size="13.2" text-anchor="end" font-weight="normal" >4000</text><line x1="400.7" y1="106.1470588235294" x2="405" y2="106.1470588235294" stroke="#000" stroke-width="1"/><line x1="673.2" y1="106.1470588235294" x2="668.7" y2="106.1470588235294" stroke="#000" stroke-width="1"/><text transform="translate(397.80,110.15) scale(0.91,1.0)" font-size="13.2" text-anchor="end" font-weight="normal" >8000</text><line x1="400.7" y1="55.323529411764724" x2="405" y2="55.323529411764724" stroke="#000" stroke-width="1"/><line x1="673.2" y1="55.323529411764724" x2="668.7" y2="55.323529411764724" stroke="#000" stroke-width="1"/><text transform="translate(397.80,59.32) scale(0.91,1.0)" font-size="13.2" text-anchor="end" font-weight="normal" >12000</text><line x1="400.7" y1="4.5" x2="405" y2="4.5" stroke="#000" stroke-width="1"/><line x1="673.2" y1="4.5" x2="668.7" y2="4.5" stroke="#000" stroke-width="1"/><text transform="translate(397.80,8.50) scale(0.91,1.0)" font-size="13.2" text-anchor="end" font-weight="normal" >16000</text><line x1="402.5" y1="220.5" x2="405" y2="220.5" stroke="#000" stroke-width="1"/><line x1="673.2" y1="220.5" x2="670.7" y2="220.5" stroke="#000" stroke-width="1"/><line x1="402.5" y1="182.38235294117646" x2="405" y2="182.38235294117646" stroke="#000" stroke-width="1"/><line x1="673.2" y1="182.38235294117646" x2="670.7" y2="182.38235294117646" stroke="#000" stroke-width="1"/><line x1="402.5" y1="131.55882352941177" x2="405" y2="131.55882352941177" stroke="#000" stroke-width="1"/><line x1="673.2" y1="131.55882352941177" x2="670.7" y2="131.55882352941177" stroke="#000" stroke-width="1"/><line x1="402.5" y1="80.73529411764704" x2="405" y2="80.73529411764704" stroke="#000" stroke-width="1"/><line x1="673.2" y1="80.73529411764704" x2="670.7" y2="80.73529411764704" stroke="#000" stroke-width="1"/><line x1="402.5" y1="29.911764705882348" x2="405" y2="29.911764705882348" stroke="#000" stroke-width="1"/><line x1="673.2" y1="29.911764705882348" x2="670.7" y2="29.911764705882348" stroke="#000" stroke-width="1"/><line x1="405.0" y1="220.5" x2="405.0" y2="225.0" stroke="#000" stroke-width="1"/><line x1="405.0" y1="4.5" x2="405.0" y2="8.5" stroke="#000" stroke-width="1"/><text transform="translate(405.00,237.80) scale(0.91,1.0)" font-size="13.2" text-anchor="middle" font-weight="normal" >720</text><line x1="472.05" y1="220.5" x2="472.05" y2="225.0" stroke="#000" stroke-width="1"/><line x1="472.05" y1="4.5" x2="472.05" y2="8.5" stroke="#000" stroke-width="1"/><text transform="translate(472.05,237.80) scale(0.91,1.0)" font-size="13.2" text-anchor="middle" font-weight="normal" >1080</text><line x1="539.1" y1="220.5" x2="539.1" y2="225.0" stroke="#000" stroke-width="1"/><line x1="539.1" y1="4.5" x2="539.1" y2="8.5" stroke="#000" stroke-width="1"/><text transform="translate(539.10,237.80) scale(0.91,1.0)" font-size="13.2" text-anchor="middle" font-weight="normal" >1440</text><line x1="606.1500000000001" y1="220.5" x2="606.1500000000001" y2="225.0" stroke="#000" stroke-width="1"/><line x1="606.1500000000001" y1="4.5" x2="606.1500000000001" y2="8.5" stroke="#000" stroke-width="1"/><text transform="translate(606.15,237.80) scale(0.91,1.0)" font-size="13.2" text-anchor="middle" font-weight="normal" >1800</text><line x1="673.2" y1="220.5" x2="673.2" y2="225.0" stroke="#000" stroke-width="1"/><line x1="673.2" y1="4.5" x2="673.2" y2="8.5" stroke="#000" stroke-width="1"/><text transform="translate(673.20,237.80) scale(0.91,1.0)" font-size="13.2" text-anchor="middle" font-weight="normal" >2160</text><line x1="438.525" y1="220.5" x2="438.525" y2="223.0" stroke="#000" stroke-width="1"/><line x1="438.525" y1="4.5" x2="438.525" y2="6.5" stroke="#000" stroke-width="1"/><line x1="505.57500000000005" y1="220.5" x2="505.57500000000005" y2="223.0" stroke="#000" stroke-width="1"/><line x1="505.57500000000005" y1="4.5" x2="505.57500000000005" y2="6.5" stroke="#000" stroke-width="1"/><line x1="572.625" y1="220.5" x2="572.625" y2="223.0" stroke="#000" stroke-width="1"/><line x1="572.625" y1="4.5" x2="572.625" y2="6.5" stroke="#000" stroke-width="1"/><line x1="639.6750000000001" y1="220.5" x2="639.6750000000001" y2="223.0" stroke="#000" stroke-width="1"/><line x1="639.6750000000001" y1="4.5" x2="639.6750000000001" y2="6.5" stroke="#000" stroke-width="1"/><text x="539.1" y="256.9" font-size="12.5" text-anchor="middle" font-weight="normal" >Angle (Deg)</text><text x="0" y="0" font-size="12.2" text-anchor="middle" transform="translate(354.3,107) rotate(-90)">Energy (J)</text><text x="342.2" y="21.8" font-size="17" text-anchor="start" font-weight="bold" >(b)</text><line x1="58" y1="14.5" x2="86" y2="14.5" stroke="#11ee11" stroke-width="1" stroke-opacity="0.75"/><text x="89.3" y="18.7" font-size="12.2" text-anchor="start" font-weight="normal" >Elastic energy</text><line x1="58" y1="30" x2="86" y2="30" stroke="#ff1a1a" stroke-width="1" stroke-opacity="0.85"/><text x="89.3" y="33.9" font-size="12.2" text-anchor="start" font-weight="normal" >Frictional energy</text><line x1="58" y1="45.35" x2="86" y2="45.35" stroke="#1a1aff" stroke-width="1" stroke-opacity="0.8"/><text x="89.3" y="49.2" font-size="12.2" text-anchor="start" font-weight="normal" >Damp energy</text><line x1="58" y1="60.3" x2="86" y2="60.3" stroke="#1f9a1f" stroke-width="1" stroke-opacity="0.9"/><text x="89.3" y="64.4" font-size="12.2" text-anchor="start" font-weight="normal" >Kinetic energy</text><line x1="58" y1="75.4" x2="86" y2="75.4" stroke="#8a2be2" stroke-width="1" stroke-opacity="0.85"/><text x="89.3" y="79.5" font-size="12.2" text-anchor="start" font-weight="normal" >Adhesive energy</text><line x1="58" y1="90.8" x2="86" y2="90.8" stroke="#1a1a1a" stroke-width="1" stroke-opacity="0.9"/><text x="89.3" y="94.3" font-size="12.2" text-anchor="start" font-weight="normal" >Total energy</text><line x1="410" y1="12.7" x2="438" y2="12.7" stroke="#11ee11" stroke-width="1" stroke-opacity="0.75"/><text x="441.1" y="16.9" font-size="12.2" text-anchor="start" font-weight="normal" >Elastic energy</text><line x1="410" y1="27.9" x2="438" y2="27.9" stroke="#ff1a1a" stroke-width="1" stroke-opacity="0.85"/><text x="441.1" y="32.0" font-size="12.2" text-anchor="start" font-weight="normal" >Frictional energy</text><line x1="410" y1="42.9" x2="438" y2="42.9" stroke="#1a1aff" stroke-width="1" stroke-opacity="0.8"/><text x="441.1" y="47.1" font-size="12.2" text-anchor="start" font-weight="normal" >Damp energy</text><line x1="410" y1="58.5" x2="438" y2="58.5" stroke="#1f9a1f" stroke-width="1" stroke-opacity="0.9"/><text x="441.1" y="62.3" font-size="12.2" text-anchor="start" font-weight="normal" >Kinetic energy</text><line x1="410" y1="73.5" x2="438" y2="73.5" stroke="#8a2be2" stroke-width="1" stroke-opacity="0.85"/><text x="441.1" y="77.5" font-size="12.2" text-anchor="start" font-weight="normal" >Adhesive energy</text><line x1="410" y1="88.5" x2="438" y2="88.5" stroke="#1a1a1a" stroke-width="1" stroke-opacity="0.9"/><text x="441.1" y="92.3" font-size="12.2" text-anchor="start" font-weight="normal" >Total energy</text></svg>
</body></html>
